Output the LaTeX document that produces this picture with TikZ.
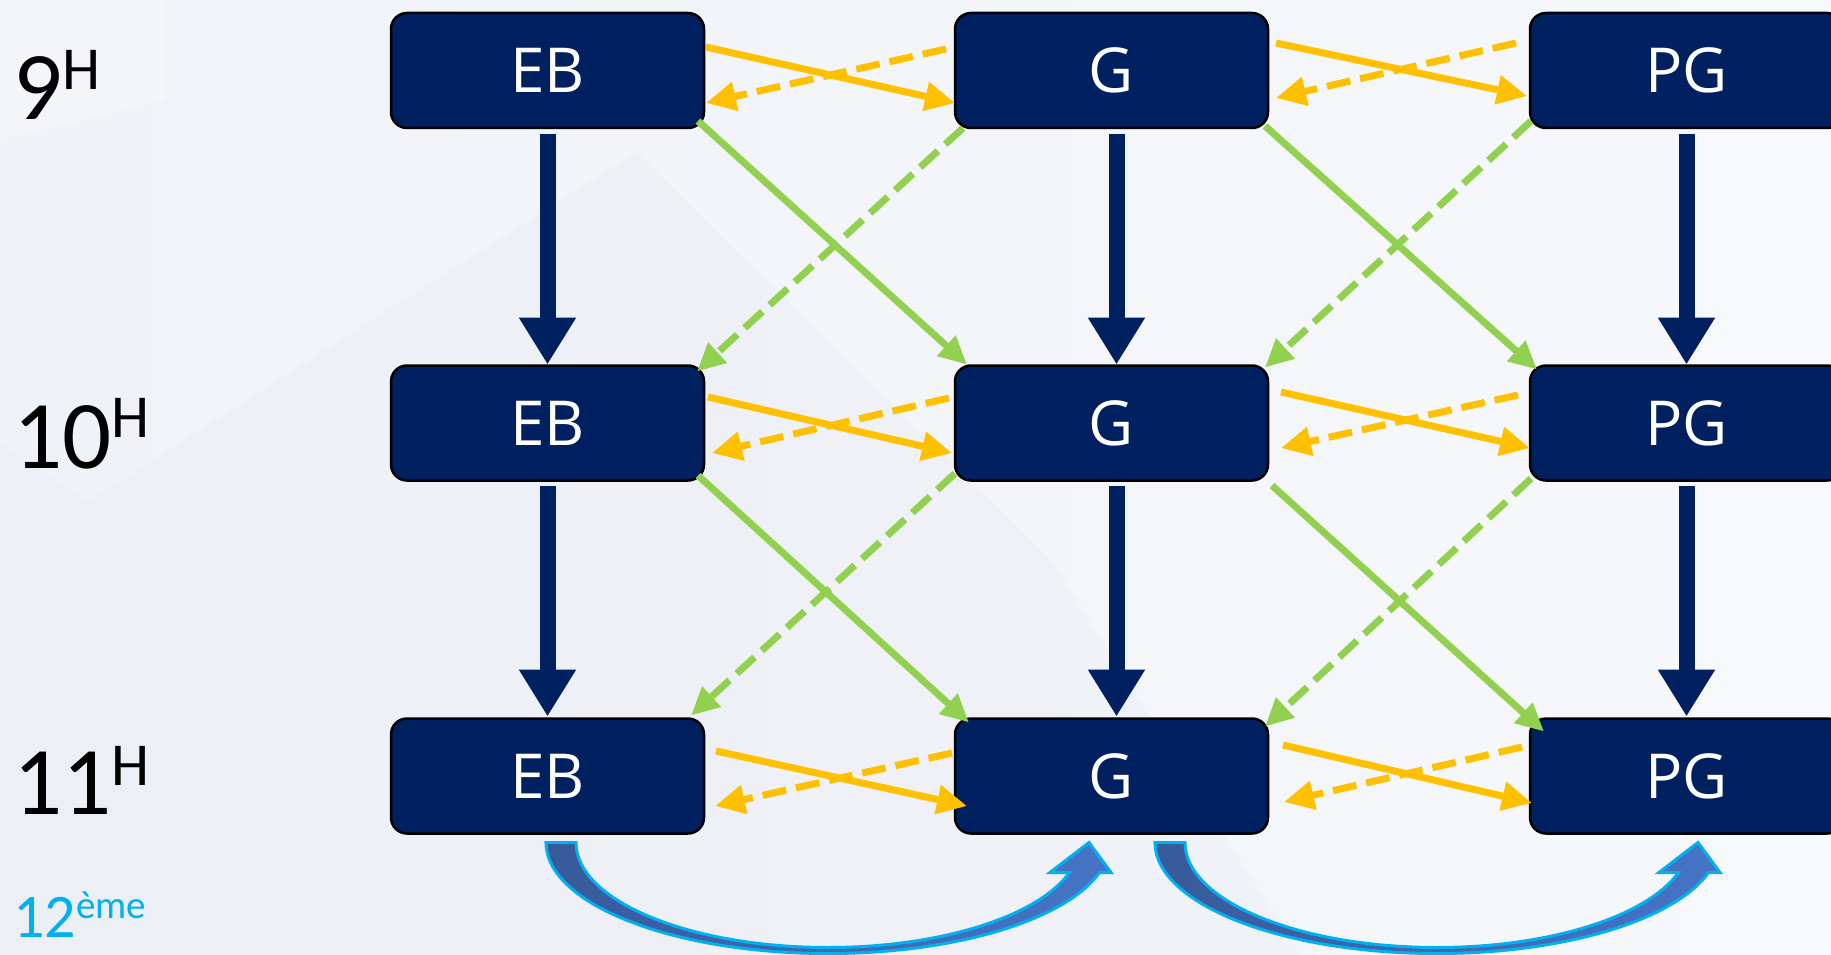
\documentclass[tikz,border=0pt]{standalone}
\usepackage{fontspec}
\setmainfont{Open Sans}
\newfontfamily\labfont{Carlito}
\usetikzlibrary{arrows.meta,calc}
\definecolor{navy}{HTML}{002060}
\definecolor{orng}{HTML}{FFC000}
\definecolor{grn}{HTML}{92D050}
\definecolor{cyanc}{HTML}{00B0F0}
\definecolor{bgleft}{HTML}{EFF2F7}
\definecolor{bgright}{HTML}{F7F8FB}
\definecolor{bgd}{HTML}{E6EAF2}
\definecolor{bgl}{HTML}{FBFBFD}
\definecolor{arrl}{HTML}{385A9A}
\definecolor{arrr}{HTML}{4674C6}
\tikzset{
 curvarr/.pic={
  \path[left color=arrl,right color=arrr,draw=cyanc,line width=3pt,line join=miter]
   (0,0) .. controls (0,61.3) and (126.3,111) .. (282,111)
   .. controls (408.4,111) and (519.3,77.9) .. (553.5,30)
   -- (565,30) -- (543,0) -- (504,30) -- (523.5,30)
   .. controls (491.6,74.5) and (393.5,105) .. (282,105)
   .. controls (142.8,105) and (30,58) .. (30,0) -- cycle;
 }
}
\begin{document}
\begin{tikzpicture}[x=1pt,y=-1pt,
 box/.style={draw=black,line width=2.5pt,fill=navy,rounded corners=16pt,minimum width=313pt,minimum height=115pt,inner sep=0pt,outer sep=0pt,text=white,font=\fontsize{62}{62}\selectfont},
 varrow/.style={draw=navy,line width=16pt,-{Triangle[length=47pt,width=54pt]}},
 osolid/.style={draw=orng,line width=7pt,-{Triangle[length=30pt,width=28pt]}},
 odash/.style={osolid,dash pattern=on 24pt off 10pt},
 gsolid/.style={draw=grn,line width=7pt,-{Triangle[length=28pt,width=26pt]}},
 gdash/.style={gsolid,dash pattern=on 24pt off 10pt},
 lab/.style={anchor=base west,inner sep=0pt,font=\labfont},
]
\useasboundingbox (0,0) rectangle (1831,955);
\shade[left color=bgleft,right color=bgright] (0,0) rectangle (1831,955);
\fill[bgd,opacity=0.3] (0,444) -- (88,502) -- (636,152) -- (1051,560) -- (1300,955) -- (0,955) -- cycle;
\fill[bgl,opacity=0.4] (0,0) -- (165,0) -- (165,100) -- (0,140) -- cycle;

% boxes
\node[box] (eb1) at (547.5,70.5) {EB};
\node[box] (g1)  at (1111.5,70.5) {G};
\node[box] (pg1) at (1686.5,70.5) {PG};
\node[box] (eb2) at (547.5,423) {EB};
\node[box] (g2)  at (1111.5,423) {G};
\node[box] (pg2) at (1686.5,423) {PG};
\node[box] (eb3) at (547.5,776) {EB};
\node[box] (g3)  at (1111.5,776) {G};
\node[box] (pg3) at (1686.5,776) {PG};

% row labels
\node[lab] (l9) at (13,120) {\fontsize{97}{97}\selectfont 9\raisebox{30pt}{\fontsize{61}{61}\selectfont H}};
\node[lab] (l10) at (13,468) {\fontsize{97}{97}\selectfont 10\raisebox{31pt}{\fontsize{61}{61}\selectfont H}};
\node[lab] (l11) at (13,814) {\fontsize{97}{97}\selectfont 11\raisebox{29pt}{\fontsize{61}{61}\selectfont H}};
\node[lab,text=cyanc] (l12) at (13,937) {\fontsize{62}{62}\selectfont 12\raisebox{19pt}{\fontsize{39}{39}\selectfont ème}};

% vertical arrows
\draw[varrow] ([yshift=-6pt]eb1.south) -- ([yshift=1pt]eb2.north);
\draw[varrow] ([xshift=5pt,yshift=-6pt]g1.south) -- ([xshift=5pt,yshift=1pt]g2.north);
\draw[varrow] ([yshift=-6pt]pg1.south) -- ([yshift=1pt]pg2.north);
\draw[varrow] ([yshift=-5pt]eb2.south) -- ([yshift=2pt]eb3.north);
\draw[varrow] ([xshift=5pt,yshift=-5pt]g2.south) -- ([xshift=5pt,yshift=2pt]g3.north);
\draw[varrow] ([yshift=-5pt]pg2.south) -- ([yshift=2pt]pg3.north);

% green diagonals
\draw[gsolid] ([shift={(-6pt,7pt)}]eb1.south east) -- ([shift={(12pt,1pt)}]g2.north west);
\draw[gdash]  ([shift={(8pt,0pt)}]g1.south west) -- ([shift={(-7pt,-6pt)}]eb2.north east);
\draw[gsolid] ([shift={(-3pt,2pt)}]g1.south east) -- ([shift={(7pt,-4pt)}]pg2.north west);
\draw[gdash]  ([shift={(1pt,7pt)}]pg1.south west) -- ([shift={(-3pt,-2pt)}]g2.north east);
\draw[gsolid] ([shift={(-6pt,5pt)}]eb2.south east) -- ([shift={(14pt,-4pt)}]g3.north west);
\draw[gdash]  ([shift={(0pt,7pt)}]g2.south west) -- ([shift={(-13pt,3pt)}]eb3.north east);
\draw[gsolid] ([shift={(4pt,-5pt)}]g2.south east) -- ([shift={(14pt,-13pt)}]pg3.north west);
\draw[gdash]  ([shift={(1pt,2pt)}]pg2.south west) -- ([shift={(-3pt,-8pt)}]g3.north east);

% orange horizontals
\draw[osolid] ([shift={(2pt,23.5pt)}]eb1.east) -- ([shift={(0pt,-32.5pt)}]g1.west);
\draw[odash]  ([shift={(-9pt,21.5pt)}]g1.west) -- ([shift={(2pt,-32.5pt)}]eb1.east);
\draw[osolid] ([shift={(8pt,27.5pt)}]g1.east) -- ([shift={(-3pt,-25.5pt)}]pg1.west);
\draw[odash]  ([shift={(-14pt,27.5pt)}]pg1.west) -- ([shift={(8pt,-27.5pt)}]g1.east);
\draw[osolid] ([shift={(4pt,26pt)}]eb2.east) -- ([shift={(-3pt,-30pt)}]g2.west);
\draw[odash]  ([shift={(-6pt,25pt)}]g2.west) -- ([shift={(8pt,-30pt)}]eb2.east);
\draw[osolid] ([shift={(13pt,31pt)}]g2.east) -- ([shift={(0pt,-25pt)}]pg2.west);
\draw[odash]  ([shift={(-12pt,28pt)}]pg2.west) -- ([shift={(13pt,-25pt)}]g2.east);
\draw[osolid] ([shift={(12pt,25pt)}]eb3.east) -- ([shift={(12pt,-30pt)}]g3.west);
\draw[odash]  ([shift={(-3pt,23pt)}]g3.west) -- ([shift={(11pt,-30pt)}]eb3.east);
\draw[osolid] ([shift={(15pt,31pt)}]g3.east) -- ([shift={(2pt,-27pt)}]pg3.west);
\draw[odash]  ([shift={(-8pt,29pt)}]pg3.west) -- ([shift={(16pt,-26pt)}]g3.east);

% curved block arrows
\pic at ([shift={(-1.5pt,-9pt)}]eb3.south) {curvarr};
\pic at ([shift={(43.5pt,-9pt)}]g3.south) {curvarr};
\end{tikzpicture}
\end{document}
